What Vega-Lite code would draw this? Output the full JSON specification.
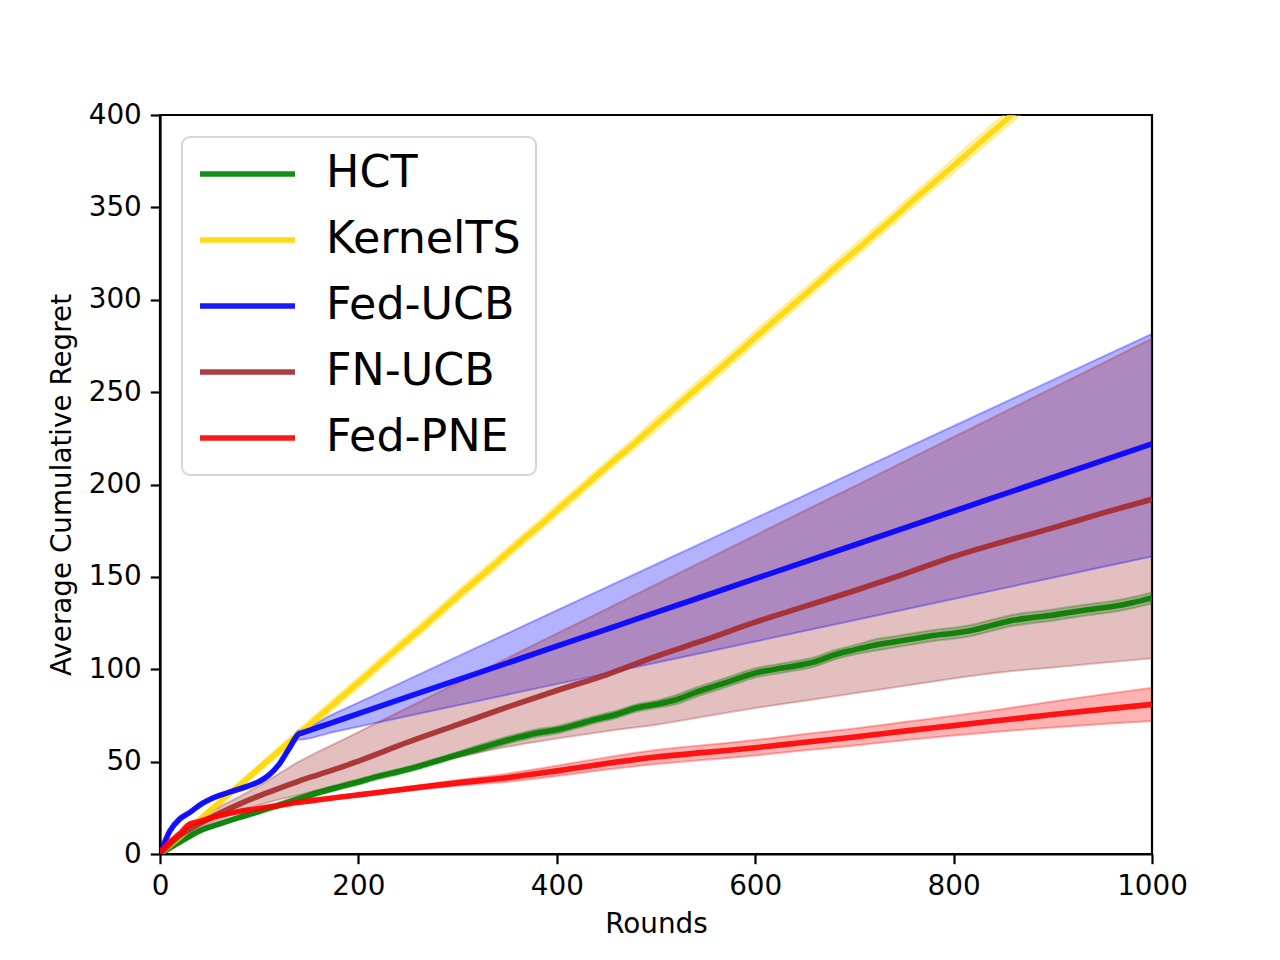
{
  "$schema": "https://vega.github.io/schema/vega-lite/v6.json",
  "width": 992,
  "height": 739,
  "autosize": {"type": "none"},
  "padding": {"left": 160, "top": 115, "right": 128, "bottom": 106},
  "background": "white",
  "config": {
    "font": "DejaVu Sans",
    "view": {"stroke": "black", "strokeWidth": 2.2},
    "axis": {
      "grid": false,
      "domainColor": "black",
      "domainWidth": 2.2,
      "tickColor": "black",
      "tickWidth": 2.2,
      "tickSize": 9.7,
      "labelFont": "DejaVu Sans",
      "labelFontSize": 27.8,
      "labelColor": "black",
      "labelPadding": 9,
      "labelFlush": false,
      "titleFont": "DejaVu Sans",
      "titleFontSize": 27.8,
      "titleFontWeight": "normal",
      "titleColor": "black"
    },
    "legend": {
      "title": null,
      "orient": "none",
      "legendX": 22,
      "legendY": 22,
      "symbolType": "stroke",
      "symbolSize": 9025,
      "symbolStrokeWidth": 5.6,
      "symbolOpacity": 0.9,
      "clipHeight": 44,
      "rowPadding": 21,
      "labelFont": "DejaVu Sans",
      "labelFontSize": 44.4,
      "labelColor": "black",
      "labelLimit": 500,
      "labelOffset": 28,
      "strokeColor": "#d6d6d6",
      "strokeWidth": 2,
      "fillColor": "white",
      "padding": 15,
      "cornerRadius": 8
    }
  },
  "data": {
    "values": [
      {"algo": "HCT", "t": 0, "m": 0, "lo": 0, "hi": 0.5},
      {"algo": "HCT", "t": 20, "m": 6.5, "lo": 5.5, "hi": 7.5},
      {"algo": "HCT", "t": 40, "m": 12.5, "lo": 11.5, "hi": 13.5},
      {"algo": "HCT", "t": 60, "m": 16.3, "lo": 15.3, "hi": 17.3},
      {"algo": "HCT", "t": 80, "m": 19.8, "lo": 18.8, "hi": 20.8},
      {"algo": "HCT", "t": 100, "m": 23, "lo": 22, "hi": 24},
      {"algo": "HCT", "t": 120, "m": 26.5, "lo": 25, "hi": 28},
      {"algo": "HCT", "t": 140, "m": 30, "lo": 28.5, "hi": 31.5},
      {"algo": "HCT", "t": 160, "m": 33.3, "lo": 31.8, "hi": 34.8},
      {"algo": "HCT", "t": 180, "m": 36.2, "lo": 34.7, "hi": 37.7},
      {"algo": "HCT", "t": 200, "m": 39, "lo": 37.5, "hi": 40.5},
      {"algo": "HCT", "t": 220, "m": 42, "lo": 40.5, "hi": 43.5},
      {"algo": "HCT", "t": 240, "m": 44.5, "lo": 43, "hi": 46},
      {"algo": "HCT", "t": 260, "m": 47.3, "lo": 45.8, "hi": 48.8},
      {"algo": "HCT", "t": 280, "m": 50.5, "lo": 49, "hi": 52},
      {"algo": "HCT", "t": 300, "m": 53.7, "lo": 52.2, "hi": 55.2},
      {"algo": "HCT", "t": 320, "m": 56.8, "lo": 54.8, "hi": 58.8},
      {"algo": "HCT", "t": 340, "m": 60, "lo": 58, "hi": 62},
      {"algo": "HCT", "t": 360, "m": 63, "lo": 61, "hi": 65},
      {"algo": "HCT", "t": 380, "m": 65.5, "lo": 63.5, "hi": 67.5},
      {"algo": "HCT", "t": 400, "m": 67.2, "lo": 65.2, "hi": 69.2},
      {"algo": "HCT", "t": 420, "m": 70, "lo": 68, "hi": 72},
      {"algo": "HCT", "t": 440, "m": 73, "lo": 71, "hi": 75},
      {"algo": "HCT", "t": 460, "m": 75.5, "lo": 73.5, "hi": 77.5},
      {"algo": "HCT", "t": 480, "m": 79, "lo": 77, "hi": 81},
      {"algo": "HCT", "t": 500, "m": 81, "lo": 79, "hi": 83},
      {"algo": "HCT", "t": 520, "m": 83.5, "lo": 81, "hi": 86},
      {"algo": "HCT", "t": 540, "m": 87.5, "lo": 85, "hi": 90},
      {"algo": "HCT", "t": 560, "m": 91, "lo": 88.5, "hi": 93.5},
      {"algo": "HCT", "t": 580, "m": 94.5, "lo": 92, "hi": 97},
      {"algo": "HCT", "t": 600, "m": 98, "lo": 95.5, "hi": 100.5},
      {"algo": "HCT", "t": 620, "m": 100, "lo": 97.5, "hi": 102.5},
      {"algo": "HCT", "t": 640, "m": 101.8, "lo": 99.3, "hi": 104.3},
      {"algo": "HCT", "t": 660, "m": 104, "lo": 101.5, "hi": 106.5},
      {"algo": "HCT", "t": 680, "m": 107.8, "lo": 105.3, "hi": 110.3},
      {"algo": "HCT", "t": 700, "m": 110.5, "lo": 108, "hi": 113},
      {"algo": "HCT", "t": 720, "m": 113, "lo": 110, "hi": 116},
      {"algo": "HCT", "t": 740, "m": 114.8, "lo": 111.8, "hi": 117.8},
      {"algo": "HCT", "t": 760, "m": 116.5, "lo": 113.5, "hi": 119.5},
      {"algo": "HCT", "t": 780, "m": 118.3, "lo": 115.3, "hi": 121.3},
      {"algo": "HCT", "t": 800, "m": 119.5, "lo": 116.5, "hi": 122.5},
      {"algo": "HCT", "t": 820, "m": 121.2, "lo": 118.2, "hi": 124.2},
      {"algo": "HCT", "t": 840, "m": 124, "lo": 121, "hi": 127},
      {"algo": "HCT", "t": 860, "m": 126.5, "lo": 123.5, "hi": 129.5},
      {"algo": "HCT", "t": 880, "m": 128, "lo": 125, "hi": 131},
      {"algo": "HCT", "t": 900, "m": 129.3, "lo": 126.3, "hi": 132.3},
      {"algo": "HCT", "t": 920, "m": 131, "lo": 128, "hi": 134},
      {"algo": "HCT", "t": 940, "m": 132.5, "lo": 129.5, "hi": 135.5},
      {"algo": "HCT", "t": 960, "m": 134, "lo": 131, "hi": 137},
      {"algo": "HCT", "t": 980, "m": 136, "lo": 133, "hi": 139},
      {"algo": "HCT", "t": 1000, "m": 138.6, "lo": 135.6, "hi": 141.6},

      {"algo": "KernelTS", "t": 0, "m": 0, "lo": 0, "hi": 0.3},
      {"algo": "KernelTS", "t": 20, "m": 9.2, "lo": 8.2, "hi": 10.2},
      {"algo": "KernelTS", "t": 40, "m": 18.6, "lo": 17.3, "hi": 19.9},
      {"algo": "KernelTS", "t": 60, "m": 28, "lo": 26.4, "hi": 29.6},
      {"algo": "KernelTS", "t": 80, "m": 37.2, "lo": 35.3, "hi": 39.1},
      {"algo": "KernelTS", "t": 100, "m": 46.5, "lo": 44.4, "hi": 48.6},
      {"algo": "KernelTS", "t": 120, "m": 55.8, "lo": 53.5, "hi": 58.1},
      {"algo": "KernelTS", "t": 140, "m": 65, "lo": 62.5, "hi": 67.5},
      {"algo": "KernelTS", "t": 160, "m": 74.3, "lo": 71.6, "hi": 77},
      {"algo": "KernelTS", "t": 180, "m": 83.6, "lo": 80.8, "hi": 86.4},
      {"algo": "KernelTS", "t": 200, "m": 92.8, "lo": 89.8, "hi": 95.8},
      {"algo": "KernelTS", "t": 220, "m": 102.2, "lo": 99.2, "hi": 105.2},
      {"algo": "KernelTS", "t": 240, "m": 111.5, "lo": 108.5, "hi": 114.5},
      {"algo": "KernelTS", "t": 260, "m": 120.6, "lo": 117.6, "hi": 123.6},
      {"algo": "KernelTS", "t": 280, "m": 130, "lo": 127, "hi": 133},
      {"algo": "KernelTS", "t": 300, "m": 139.6, "lo": 136.6, "hi": 142.6},
      {"algo": "KernelTS", "t": 320, "m": 148.8, "lo": 145.8, "hi": 151.8},
      {"algo": "KernelTS", "t": 340, "m": 158, "lo": 155, "hi": 161},
      {"algo": "KernelTS", "t": 360, "m": 167.5, "lo": 164.5, "hi": 170.5},
      {"algo": "KernelTS", "t": 380, "m": 176.6, "lo": 173.6, "hi": 179.6},
      {"algo": "KernelTS", "t": 400, "m": 186, "lo": 183, "hi": 189},
      {"algo": "KernelTS", "t": 420, "m": 195.3, "lo": 192.3, "hi": 198.3},
      {"algo": "KernelTS", "t": 440, "m": 204.8, "lo": 201.8, "hi": 207.8},
      {"algo": "KernelTS", "t": 460, "m": 214, "lo": 211, "hi": 217},
      {"algo": "KernelTS", "t": 480, "m": 223, "lo": 220, "hi": 226},
      {"algo": "KernelTS", "t": 500, "m": 232.6, "lo": 229.1, "hi": 236.1},
      {"algo": "KernelTS", "t": 520, "m": 242, "lo": 238.5, "hi": 245.5},
      {"algo": "KernelTS", "t": 540, "m": 251.5, "lo": 248, "hi": 255},
      {"algo": "KernelTS", "t": 560, "m": 260.6, "lo": 257.1, "hi": 264.1},
      {"algo": "KernelTS", "t": 580, "m": 270, "lo": 266.5, "hi": 273.5},
      {"algo": "KernelTS", "t": 600, "m": 279.6, "lo": 276.1, "hi": 283.1},
      {"algo": "KernelTS", "t": 620, "m": 289, "lo": 285.5, "hi": 292.5},
      {"algo": "KernelTS", "t": 640, "m": 298.2, "lo": 294.7, "hi": 301.7},
      {"algo": "KernelTS", "t": 660, "m": 307.5, "lo": 304, "hi": 311},
      {"algo": "KernelTS", "t": 680, "m": 317, "lo": 313.5, "hi": 320.5},
      {"algo": "KernelTS", "t": 700, "m": 326, "lo": 322.5, "hi": 329.5},
      {"algo": "KernelTS", "t": 720, "m": 335.4, "lo": 331.9, "hi": 338.9},
      {"algo": "KernelTS", "t": 740, "m": 344.6, "lo": 341.1, "hi": 348.1},
      {"algo": "KernelTS", "t": 760, "m": 354.2, "lo": 350.7, "hi": 357.7},
      {"algo": "KernelTS", "t": 780, "m": 363.4, "lo": 359.9, "hi": 366.9},
      {"algo": "KernelTS", "t": 800, "m": 372.6, "lo": 368.6, "hi": 376.6},
      {"algo": "KernelTS", "t": 820, "m": 382, "lo": 378, "hi": 386},
      {"algo": "KernelTS", "t": 840, "m": 391.4, "lo": 387.4, "hi": 395.4},
      {"algo": "KernelTS", "t": 860, "m": 400.6, "lo": 396.6, "hi": 404.6},
      {"algo": "KernelTS", "t": 880, "m": 410, "lo": 406, "hi": 414},
      {"algo": "KernelTS", "t": 900, "m": 419.2, "lo": 415.2, "hi": 423.2},

      {"algo": "Fed-UCB", "t": 0, "m": 0, "lo": 0, "hi": 0.5},
      {"algo": "Fed-UCB", "t": 10, "m": 12.5, "lo": 12, "hi": 13},
      {"algo": "Fed-UCB", "t": 20, "m": 19, "lo": 18.5, "hi": 19.5},
      {"algo": "Fed-UCB", "t": 30, "m": 22.5, "lo": 22, "hi": 23},
      {"algo": "Fed-UCB", "t": 40, "m": 26.5, "lo": 26, "hi": 27},
      {"algo": "Fed-UCB", "t": 50, "m": 29.5, "lo": 29, "hi": 30},
      {"algo": "Fed-UCB", "t": 60, "m": 31.7, "lo": 31.2, "hi": 32.2},
      {"algo": "Fed-UCB", "t": 70, "m": 33.5, "lo": 33, "hi": 34},
      {"algo": "Fed-UCB", "t": 80, "m": 35.2, "lo": 34.6, "hi": 35.8},
      {"algo": "Fed-UCB", "t": 90, "m": 37, "lo": 36.4, "hi": 37.6},
      {"algo": "Fed-UCB", "t": 100, "m": 39.2, "lo": 38.5, "hi": 39.9},
      {"algo": "Fed-UCB", "t": 110, "m": 42.8, "lo": 42, "hi": 43.6},
      {"algo": "Fed-UCB", "t": 120, "m": 48.5, "lo": 47.5, "hi": 49.5},
      {"algo": "Fed-UCB", "t": 130, "m": 57, "lo": 55.5, "hi": 58.5},
      {"algo": "Fed-UCB", "t": 140, "m": 65, "lo": 62, "hi": 67},
      {"algo": "Fed-UCB", "t": 142, "m": 65.37, "lo": 61.9, "hi": 67.2},
      {"algo": "Fed-UCB", "t": 150, "m": 66.83, "lo": 62.5, "hi": 68.5},
      {"algo": "Fed-UCB", "t": 170, "m": 70.48, "lo": 65.4, "hi": 74.5},
      {"algo": "Fed-UCB", "t": 200, "m": 75.96, "lo": 68.92, "hi": 81.97},
      {"algo": "Fed-UCB", "t": 300, "m": 94.22, "lo": 80.44, "hi": 106.92},
      {"algo": "Fed-UCB", "t": 400, "m": 112.48, "lo": 91.96, "hi": 131.87},
      {"algo": "Fed-UCB", "t": 500, "m": 130.74, "lo": 103.48, "hi": 156.82},
      {"algo": "Fed-UCB", "t": 600, "m": 149.0, "lo": 115.0, "hi": 181.77},
      {"algo": "Fed-UCB", "t": 700, "m": 167.26, "lo": 126.52, "hi": 206.72},
      {"algo": "Fed-UCB", "t": 800, "m": 185.52, "lo": 138.04, "hi": 231.67},
      {"algo": "Fed-UCB", "t": 900, "m": 203.78, "lo": 149.56, "hi": 256.62},
      {"algo": "Fed-UCB", "t": 1000, "m": 222.04, "lo": 161.08, "hi": 281.57},

      {"algo": "FN-UCB", "t": 0, "m": 0, "lo": 0, "hi": 0},
      {"algo": "FN-UCB", "t": 20, "m": 10, "lo": 8.5, "hi": 11},
      {"algo": "FN-UCB", "t": 40, "m": 16.5, "lo": 14, "hi": 19},
      {"algo": "FN-UCB", "t": 60, "m": 22, "lo": 18.5, "hi": 25.5},
      {"algo": "FN-UCB", "t": 80, "m": 27, "lo": 23, "hi": 31},
      {"algo": "FN-UCB", "t": 100, "m": 31.5, "lo": 26.5, "hi": 37},
      {"algo": "FN-UCB", "t": 120, "m": 35.5, "lo": 29.5, "hi": 43.5},
      {"algo": "FN-UCB", "t": 140, "m": 39.5, "lo": 32, "hi": 50},
      {"algo": "FN-UCB", "t": 160, "m": 43, "lo": 34.5, "hi": 55.5},
      {"algo": "FN-UCB", "t": 180, "m": 46.5, "lo": 37, "hi": 60.7},
      {"algo": "FN-UCB", "t": 200, "m": 50.3, "lo": 39.5, "hi": 66},
      {"algo": "FN-UCB", "t": 250, "m": 60.5, "lo": 46.5, "hi": 79.3},
      {"algo": "FN-UCB", "t": 300, "m": 70, "lo": 52.5, "hi": 92.7},
      {"algo": "FN-UCB", "t": 350, "m": 79.5, "lo": 58, "hi": 106},
      {"algo": "FN-UCB", "t": 400, "m": 88.5, "lo": 62.5, "hi": 119.3},
      {"algo": "FN-UCB", "t": 450, "m": 97, "lo": 66.5, "hi": 132.6},
      {"algo": "FN-UCB", "t": 500, "m": 107, "lo": 70, "hi": 145.9},
      {"algo": "FN-UCB", "t": 550, "m": 116, "lo": 74.5, "hi": 159.2},
      {"algo": "FN-UCB", "t": 600, "m": 125.5, "lo": 79, "hi": 172.5},
      {"algo": "FN-UCB", "t": 650, "m": 134, "lo": 83, "hi": 185.8},
      {"algo": "FN-UCB", "t": 700, "m": 142.5, "lo": 87, "hi": 199},
      {"algo": "FN-UCB", "t": 750, "m": 151.5, "lo": 91, "hi": 212.4},
      {"algo": "FN-UCB", "t": 800, "m": 161, "lo": 95, "hi": 225.7},
      {"algo": "FN-UCB", "t": 850, "m": 169, "lo": 98.5, "hi": 239},
      {"algo": "FN-UCB", "t": 900, "m": 176.5, "lo": 101, "hi": 252.3},
      {"algo": "FN-UCB", "t": 950, "m": 184.5, "lo": 103.5, "hi": 265.6},
      {"algo": "FN-UCB", "t": 1000, "m": 192, "lo": 106, "hi": 279},

      {"algo": "Fed-PNE", "t": 0, "m": 1, "lo": 0.5, "hi": 1.5},
      {"algo": "Fed-PNE", "t": 10, "m": 6.5, "lo": 6, "hi": 7},
      {"algo": "Fed-PNE", "t": 20, "m": 11, "lo": 10.5, "hi": 11.5},
      {"algo": "Fed-PNE", "t": 30, "m": 16.2, "lo": 15.7, "hi": 16.7},
      {"algo": "Fed-PNE", "t": 40, "m": 17.6, "lo": 17.1, "hi": 18.1},
      {"algo": "Fed-PNE", "t": 60, "m": 20.8, "lo": 20.3, "hi": 21.3},
      {"algo": "Fed-PNE", "t": 80, "m": 23, "lo": 22.5, "hi": 23.5},
      {"algo": "Fed-PNE", "t": 100, "m": 24.6, "lo": 24.1, "hi": 25.1},
      {"algo": "Fed-PNE", "t": 120, "m": 26.3, "lo": 25.8, "hi": 26.8},
      {"algo": "Fed-PNE", "t": 140, "m": 28, "lo": 27.5, "hi": 28.5},
      {"algo": "Fed-PNE", "t": 160, "m": 29.4, "lo": 28.8, "hi": 30},
      {"algo": "Fed-PNE", "t": 180, "m": 30.7, "lo": 30, "hi": 31.4},
      {"algo": "Fed-PNE", "t": 200, "m": 32, "lo": 31.2, "hi": 32.8},
      {"algo": "Fed-PNE", "t": 250, "m": 35.3, "lo": 34.1, "hi": 36.5},
      {"algo": "Fed-PNE", "t": 300, "m": 38.5, "lo": 36.9, "hi": 40.1},
      {"algo": "Fed-PNE", "t": 350, "m": 41.3, "lo": 39.1, "hi": 43.5},
      {"algo": "Fed-PNE", "t": 400, "m": 45, "lo": 42.2, "hi": 47.8},
      {"algo": "Fed-PNE", "t": 450, "m": 49, "lo": 45.7, "hi": 52.3},
      {"algo": "Fed-PNE", "t": 500, "m": 52.5, "lo": 48.7, "hi": 56.3},
      {"algo": "Fed-PNE", "t": 550, "m": 55, "lo": 51, "hi": 59},
      {"algo": "Fed-PNE", "t": 600, "m": 57.5, "lo": 53.3, "hi": 61.7},
      {"algo": "Fed-PNE", "t": 650, "m": 60.5, "lo": 56.1, "hi": 64.9},
      {"algo": "Fed-PNE", "t": 700, "m": 63.3, "lo": 58.7, "hi": 67.9},
      {"algo": "Fed-PNE", "t": 750, "m": 66.5, "lo": 61.6, "hi": 71.4},
      {"algo": "Fed-PNE", "t": 800, "m": 69.5, "lo": 64.2, "hi": 74.8},
      {"algo": "Fed-PNE", "t": 850, "m": 72.5, "lo": 66.5, "hi": 78.5},
      {"algo": "Fed-PNE", "t": 900, "m": 75.5, "lo": 68.5, "hi": 82.5},
      {"algo": "Fed-PNE", "t": 950, "m": 78.3, "lo": 70.3, "hi": 86.3},
      {"algo": "Fed-PNE", "t": 1000, "m": 81, "lo": 72, "hi": 90}
    ]
  },
  "encoding": {
    "x": {
      "field": "t",
      "type": "quantitative",
      "title": "Rounds",
      "scale": {"domain": [0, 1000], "nice": false, "zero": false},
      "axis": {"values": [0, 200, 400, 600, 800, 1000], "format": "d", "titlePadding": 10}
    },
    "color": {
      "field": "algo",
      "type": "nominal",
      "scale": {
        "domain": ["HCT", "KernelTS", "Fed-UCB", "FN-UCB", "Fed-PNE"],
        "range": ["#008000", "#FFD700", "#0000FF", "#A52A2A", "#FF0000"]
      }
    }
  },
  "layer": [
    {
      "mark": {"type": "area", "opacity": 0.3, "interpolate": "monotone", "clip": true},
      "encoding": {
        "y": {
          "field": "lo",
          "type": "quantitative",
          "title": "Average Cumulative Regret",
          "scale": {"domain": [0, 400], "nice": false},
          "axis": {"values": [0, 50, 100, 150, 200, 250, 300, 350, 400], "format": "d", "titlePadding": 12}
        },
        "y2": {"field": "hi"}
      }
    },
    {
      "mark": {"type": "line", "strokeWidth": 2, "opacity": 0.3, "interpolate": "monotone", "clip": true},
      "encoding": {"y": {"field": "lo", "type": "quantitative"}}
    },
    {
      "mark": {"type": "line", "strokeWidth": 2, "opacity": 0.3, "interpolate": "monotone", "clip": true},
      "encoding": {"y": {"field": "hi", "type": "quantitative"}}
    },
    {
      "mark": {"type": "line", "strokeWidth": 5.6, "opacity": 0.9, "interpolate": "monotone", "clip": true},
      "encoding": {"y": {"field": "m", "type": "quantitative"}}
    }
  ]
}
